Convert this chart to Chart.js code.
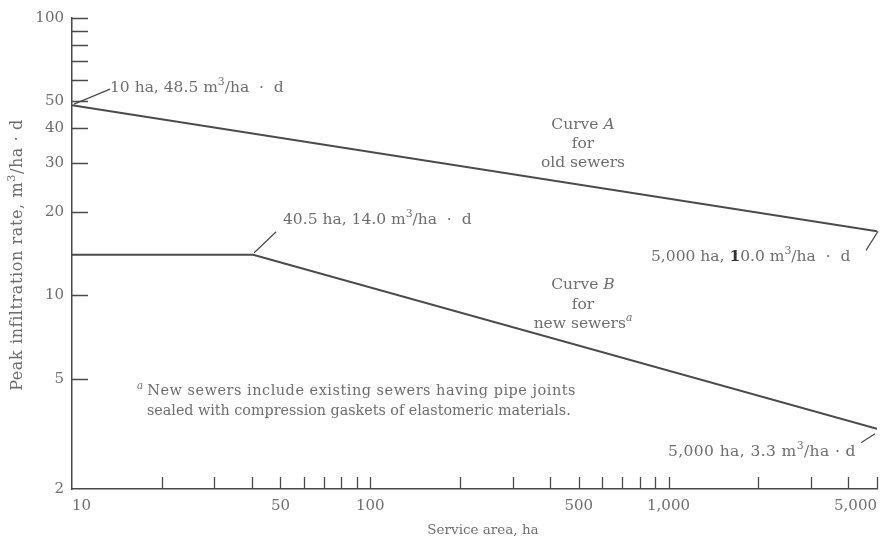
<!DOCTYPE html>
<html>
<head>
<meta charset="utf-8">
<script src="https://cdn.jsdelivr.net/npm/chart.js@4"></script>
<style>
  html, body { margin: 0; padding: 0; background: #fff; }
  #wrap { width: 895px; height: 542px; }
</style>
</head>
<body>
<div id="wrap"><canvas id="chart" width="895" height="542"></canvas></div>
<script>
// Curve A: old sewers
const areaA = [10, 5000];
const rateA = [48.5, 17.0];

// Curve B: new sewers (flat up to 40.5 ha)
const areaB = [10, 40.5, 5000];
const rateB = [14.0, 14.0, 3.3];

// axis ticks
const xTicks = [10, 20, 30, 40, 50, 60, 70, 80, 90, 100, 200, 300, 400, 500, 600, 700, 800, 900, 1000, 2000, 3000, 4000, 5000];
const xTickLabels = [10, 50, 100, 500, 1000, 5000];
const yTicks = [2, 5, 10, 20, 30, 40, 50, 60, 70, 80, 90, 100];
const yTickLabels = [2, 5, 10, 20, 30, 40, 50, 100];

const ink = '#4a4a4a';
const textGray = '#6e6e6e';
const serif = '"DejaVu Serif", "Liberation Serif", serif';

function toPoints(xs, ys) {
    return xs.map((x, i) => ({ x: x, y: ys[i] }));
}

function fmtNum(v) {
    return v >= 1000 ? v.toLocaleString('en-US') : String(v);
}

// draws text made of pieces (plain / italic / bold / superscript)
function drawRich(ctx, parts, x, y, size, align, spacing) {
    const fontFor = p => (p.bold ? 'bold ' : '') + (p.italic ? 'italic ' : '') + (p.sup ? size * 0.7 : size) + 'px ' + serif;
    ctx.letterSpacing = (spacing || 0) + 'px';
    let total = 0;
    parts.forEach(p => { ctx.font = fontFor(p); total += ctx.measureText(p.t).width; });
    let cx = align === 'center' ? x - total / 2 : x;
    ctx.textAlign = 'left';
    ctx.textBaseline = 'middle';
    parts.forEach(p => {
        ctx.font = fontFor(p);
        ctx.fillStyle = p.bold ? '#333' : textGray;
        ctx.fillText(p.t, cx, p.sup ? y - size * 0.35 : y);
        cx += ctx.measureText(p.t).width;
    });
    ctx.letterSpacing = '0px';
}

// inward tick marks + leader lines + notes + axis titles
const extrasPlugin = {
    id: 'extras',
    afterDraw(chart) {
        const ctx = chart.ctx;
        const xs = chart.scales.x, ys = chart.scales.y;
        const area = chart.chartArea;
        ctx.save();
        ctx.strokeStyle = ink;
        ctx.lineWidth = 1.3;
        ctx.beginPath();
        xTicks.forEach(v => {
            if (v === 10) return;
            const px = Math.round(xs.getPixelForValue(v)) + 0.5;
            ctx.moveTo(px, area.bottom);
            ctx.lineTo(px, area.bottom - 12);
        });
        yTicks.forEach(v => {
            if (v === 2) return;
            const py = Math.round(ys.getPixelForValue(v)) + 0.5;
            ctx.moveTo(area.left, py);
            ctx.lineTo(area.left + 16, py);
        });
        ctx.stroke();

        // leader lines from the labelled points
        const leader = (xv, yv, dx1, dy1, dx2, dy2) => {
            const px = xs.getPixelForValue(xv), py = ys.getPixelForValue(yv);
            ctx.beginPath();
            ctx.moveTo(px + dx1, py + dy1);
            ctx.lineTo(px + dx2, py + dy2);
            ctx.stroke();
        };
        ctx.lineWidth = 1.2;
        leader(areaA[0], rateA[0], 2, -1, 38, -16);
        leader(areaB[1], rateB[1], 1, -2, 23, -23);
        leader(areaA[1], rateA[1], 1, 0, -11, 19);
        leader(areaB[2], rateB[2], -2, 5, -16, 14);

        const s = 15.5;
        drawRich(ctx, [{ t: '10 ha, 48.5 m' }, { t: '3', sup: true }, { t: '/ha  ·  d' }], 110, 88, s, 'left');
        drawRich(ctx, [{ t: '40.5 ha, 14.0 m' }, { t: '3', sup: true }, { t: '/ha  ·  d' }], 283, 220, s, 'left');
        drawRich(ctx, [{ t: '5,000 ha, ' }, { t: '1', bold: true }, { t: '0.0 m' }, { t: '3', sup: true }, { t: '/ha  ·  d' }], 651, 257, s, 'left');
        drawRich(ctx, [{ t: '5,000 ha, 3.3 m' }, { t: '3', sup: true }, { t: '/ha · d' }], 668, 452, s, 'left', 0.4);

        drawRich(ctx, [{ t: 'Curve ' }, { t: 'A', italic: true }], 583, 125, s, 'center');
        drawRich(ctx, [{ t: 'for' }], 583, 144, s, 'center');
        drawRich(ctx, [{ t: 'old sewers' }], 583, 163, s, 'center');

        drawRich(ctx, [{ t: 'Curve ' }, { t: 'B', italic: true }], 583, 285, s, 'center');
        drawRich(ctx, [{ t: 'for' }], 583, 305, s, 'center');
        drawRich(ctx, [{ t: 'new sewers' }, { t: 'a', italic: true, sup: true }], 583, 324, s, 'center');

        drawRich(ctx, [{ t: 'a ', italic: true, sup: true }, { t: 'New sewers include existing sewers having pipe joints' }], 137, 391, 14.5, 'left', 0.5);
        drawRich(ctx, [{ t: 'sealed with compression gaskets of elastomeric materials.' }], 147, 411, 14.3, 'left', 0);

        // axis titles
        drawRich(ctx, [{ t: 'Service area, ha' }], 483, 530, 13.5, 'center', 0);
        ctx.translate(18, 255);
        ctx.rotate(-Math.PI / 2);
        drawRich(ctx, [{ t: 'Peak infiltration rate, m' }, { t: '3', sup: true }, { t: '/ha · d' }], 0, 0, 16, 'center', 0.6);
        ctx.restore();
    }
};

const tickFont = { family: serif, size: 15 };

new Chart(document.getElementById('chart'), {
    type: 'scatter',
    data: {
        datasets: [
            {
                label: 'Curve A for old sewers',
                data: toPoints(areaA, rateA),
                showLine: true,
                borderColor: ink,
                borderWidth: 2,
                pointRadius: 0,
                tension: 0
            },
            {
                label: 'Curve B for new sewers',
                data: toPoints(areaB, rateB),
                showLine: true,
                borderColor: ink,
                borderWidth: 2,
                pointRadius: 0,
                tension: 0
            }
        ]
    },
    options: {
        responsive: false,
        animation: false,
        layout: { padding: { left: 0, top: 18, right: 18, bottom: 0 } },
        plugins: {
            legend: { display: false },
            tooltip: { enabled: false }
        },
        scales: {
            x: {
                type: 'logarithmic',
                min: 10,
                max: 5000,
                afterBuildTicks: s => { s.ticks = xTicks.map(v => ({ value: v })); },
                afterFit: s => { s.height = 53; s.paddingLeft = 0; s.paddingRight = 0; },
                ticks: {
                    autoSkip: false,
                    maxRotation: 0,
                    align: 'inner',
                    padding: 8,
                    color: textGray,
                    font: tickFont,
                    callback: v => xTickLabels.includes(v) ? fmtNum(v) : ''
                },
                grid: { display: true, drawOnChartArea: false, drawTicks: false },
                border: { display: true, color: ink, width: 1.5 }
            },
            y: {
                type: 'logarithmic',
                min: 2,
                max: 100,
                afterBuildTicks: s => { s.ticks = yTicks.map(v => ({ value: v })); },
                afterFit: s => { s.width = 72; s.paddingTop = 0; s.paddingBottom = 0; },
                ticks: {
                    autoSkip: false,
                    padding: 8,
                    color: textGray,
                    font: tickFont,
                    callback: v => yTickLabels.includes(v) ? fmtNum(v) : ''
                },
                grid: { display: true, drawOnChartArea: false, drawTicks: false },
                border: { display: true, color: ink, width: 1.5 }
            }
        }
    },
    plugins: [extrasPlugin]
});
</script>
</body>
</html>
